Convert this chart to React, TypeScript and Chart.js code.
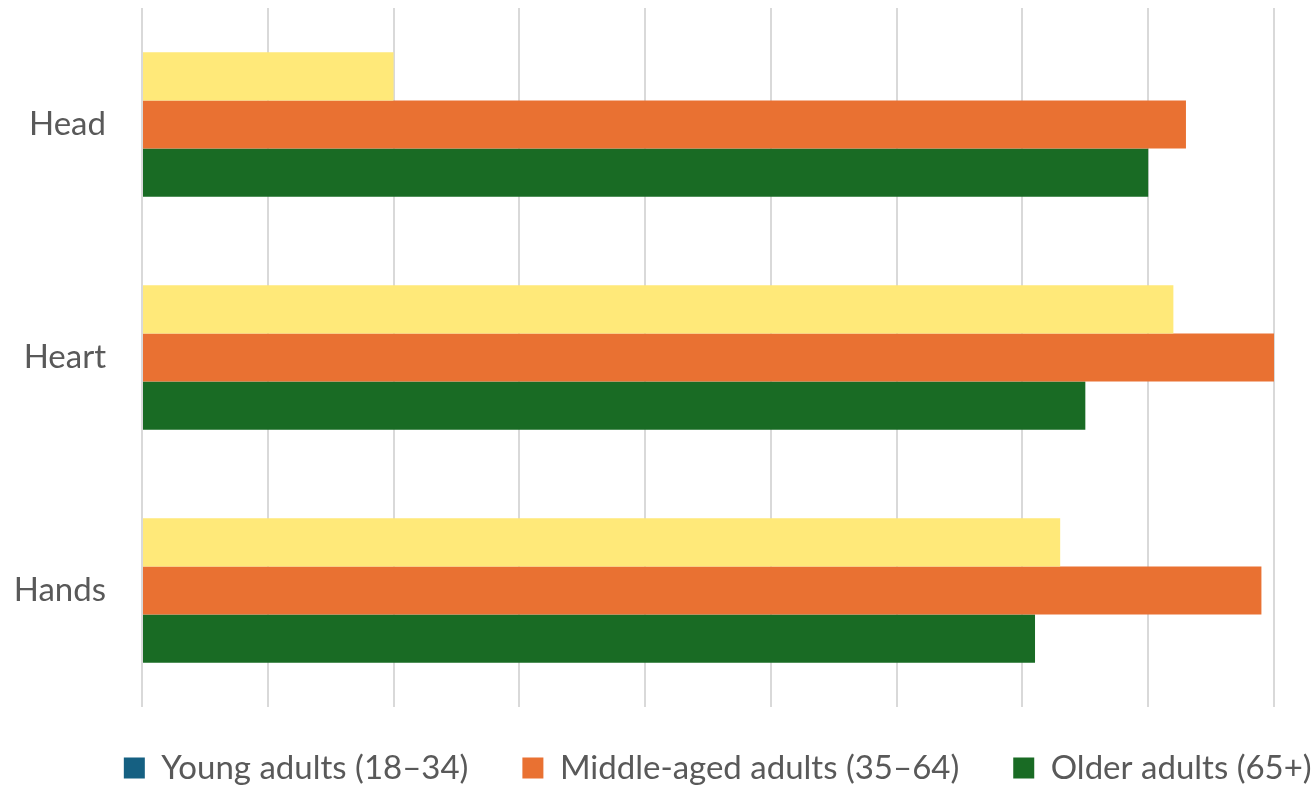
import React, { useEffect, useRef } from "react";
import { Chart, registerables } from "chart.js";

Chart.register(...registerables);

const categories = ["Head", "Heart", "Hands"];
const seriesNames = ["Young adults (18–34)", "Middle-aged adults (35–64)", "Older adults (65+)"];
const youngValues = [2.0, 8.2, 7.3];
const middleValues = [8.3, 9.0, 8.9];
const olderValues = [8.0, 7.5, 7.1];
const barColors = ["#FFE979", "#E97132", "#196B24"];
const legendColors = ["#156082", "#E97132", "#196B24"];

const FONT = "Lato, 'Noto Sans', sans-serif";
const LEGEND_PAD = 54;

const legendPlace = {
  id: "legendPlace",
  afterLayout(chart: any) {
    const lg = chart.legend;
    if (!lg) return;
    lg.top = 707 - 9.5;
    lg.bottom = 786;
    lg.height = lg.bottom - lg.top;
    lg.left = 35.5;
    lg.right = 1400;
    lg.width = lg.right - lg.left;
  },
};

export default function App() {
  const ref = useRef<HTMLCanvasElement>(null);
  useEffect(() => {
    if (!ref.current) return;
    const chart = new Chart(ref.current, {
      type: "bar",
      data: {
        labels: categories,
        datasets: [youngValues, middleValues, olderValues].map((d, i) => ({
          label: seriesNames[i],
          data: d,
          backgroundColor: barColors[i],
          borderWidth: 0,
          categoryPercentage: 0.62,
          barPercentage: 1.0,
        })),
      },
      plugins: [legendPlace],
      options: {
        indexAxis: "y",
        animation: false,
        responsive: false,
        maintainAspectRatio: false,
        layout: { padding: { top: 8, right: 0, left: 0, bottom: 0 } },
        scales: {
          x: {
            min: 0,
            max: 9,
            ticks: { display: false, stepSize: 1 },
            grid: { color: "#d9d9d9", lineWidth: 2, drawTicks: false },
            border: { display: false },
            afterFit: (scale: any) => {
              scale.height = 0;
            },
          },
          y: {
            ticks: {
              color: "#595959",
              font: { family: FONT, size: 33 },
              padding: 36,
            },
            grid: { display: false, drawTicks: false },
            border: { display: false },
            afterFit: (scale: any) => {
              scale.width = 142;
              scale.paddingTop = 0;
              scale.paddingBottom = 0;
            },
          },
          yRight: {
            type: "category",
            position: "right",
            labels: categories,
            ticks: { display: false },
            grid: { display: false, drawTicks: false },
            border: { display: false },
            afterFit: (scale: any) => {
              scale.width = 40;
              scale.paddingTop = 0;
              scale.paddingBottom = 0;
            },
          },
        },
        plugins: {
          tooltip: { enabled: false },
          legend: {
            position: "bottom",
            maxHeight: 79,
            labels: {
              color: "#595959",
              font: { family: FONT, size: 33 },
              boxWidth: 21,
              boxHeight: 21,
              padding: LEGEND_PAD,
              generateLabels: (c: any) =>
                c.data.datasets.map((ds: any, i: number) => ({
                  text: ds.label,
                  fillStyle: legendColors[i],
                  strokeStyle: legendColors[i],
                  lineWidth: 0,
                  hidden: false,
                  datasetIndex: i,
                  fontColor: "#595959",
                })),
            },
          },
        },
      },
    });
    return () => chart.destroy();
  }, []);
  return (
    <div style={{ position: "fixed", left: 0, top: 0, width: 1314, height: 786, background: "#fff" }}>
      <canvas ref={ref} width={1314} height={786} style={{ width: 1314, height: 786 }} />
    </div>
  );
}
